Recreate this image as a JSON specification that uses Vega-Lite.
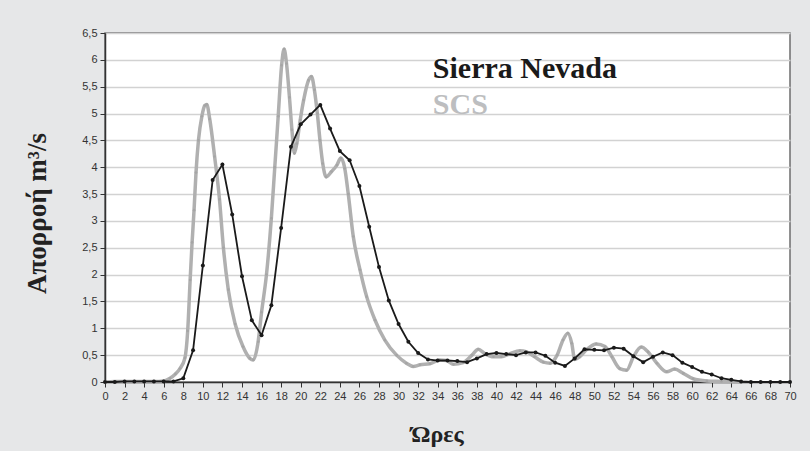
{
  "$schema": "https://vega.github.io/schema/vega-lite/v6.json",
  "autosize": {"type": "none"},
  "padding": {"left": 105, "top": 33, "right": 20, "bottom": 69},
  "width": 685,
  "height": 349,
  "background": "#e6e7e8",
  "config": {
    "view": {"stroke": "#6e6e6e", "strokeWidth": 1.5, "fill": "#ffffff"},
    "axis": {"labelFont": "Liberation Sans", "labelFontSize": 11, "labelColor": "#333333", "titleFont": "Times New Roman, Liberation Serif, DejaVu Serif, serif", "titleFontWeight": "bold", "titleColor": "#222222", "domainColor": "#333333", "domainWidth": 1.5, "tickColor": "#333333", "tickSize": 5}
  },
  "datasets": {
    "sn": [
      {"h": 0, "q": 0}, {"h": 1, "q": 0}, {"h": 2, "q": 0.01}, {"h": 3, "q": 0.01}, {"h": 4, "q": 0.01}, {"h": 5, "q": 0.01}, {"h": 6, "q": 0.01}, {"h": 7, "q": 0.01},
      {"h": 8, "q": 0.07}, {"h": 9, "q": 0.59}, {"h": 10, "q": 2.17}, {"h": 11, "q": 3.76}, {"h": 12, "q": 4.05}, {"h": 13, "q": 3.12}, {"h": 14, "q": 1.97},
      {"h": 15, "q": 1.15}, {"h": 16, "q": 0.87}, {"h": 17, "q": 1.43}, {"h": 18, "q": 2.87}, {"h": 19, "q": 4.38}, {"h": 20, "q": 4.8}, {"h": 21, "q": 4.98},
      {"h": 22, "q": 5.16}, {"h": 23, "q": 4.72}, {"h": 24, "q": 4.3}, {"h": 25, "q": 4.13}, {"h": 26, "q": 3.65}, {"h": 27, "q": 2.89}, {"h": 28, "q": 2.14},
      {"h": 29, "q": 1.52}, {"h": 30, "q": 1.08}, {"h": 31, "q": 0.75}, {"h": 32, "q": 0.54}, {"h": 33, "q": 0.42}, {"h": 34, "q": 0.4}, {"h": 35, "q": 0.4},
      {"h": 36, "q": 0.39}, {"h": 37, "q": 0.37}, {"h": 38, "q": 0.44}, {"h": 39, "q": 0.52}, {"h": 40, "q": 0.54}, {"h": 41, "q": 0.52}, {"h": 42, "q": 0.5},
      {"h": 43, "q": 0.55}, {"h": 44, "q": 0.55}, {"h": 45, "q": 0.49}, {"h": 46, "q": 0.36}, {"h": 47, "q": 0.3}, {"h": 48, "q": 0.44}, {"h": 49, "q": 0.61},
      {"h": 50, "q": 0.6}, {"h": 51, "q": 0.59}, {"h": 52, "q": 0.64}, {"h": 53, "q": 0.62}, {"h": 54, "q": 0.48}, {"h": 55, "q": 0.37}, {"h": 56, "q": 0.47},
      {"h": 57, "q": 0.55}, {"h": 58, "q": 0.5}, {"h": 59, "q": 0.36}, {"h": 60, "q": 0.28}, {"h": 61, "q": 0.19}, {"h": 62, "q": 0.14}, {"h": 63, "q": 0.07},
      {"h": 64, "q": 0.04}, {"h": 65, "q": 0.01}, {"h": 66, "q": 0}, {"h": 67, "q": 0}, {"h": 68, "q": 0}, {"h": 69, "q": 0}, {"h": 70, "q": 0}
    ],
    "scs": [
      {"h": 0, "q": 0}, {"h": 1, "q": 0.01}, {"h": 2, "q": 0.01}, {"h": 3, "q": 0.01}, {"h": 4, "q": 0.01}, {"h": 5, "q": 0.01}, {"h": 6, "q": 0.02},
      {"h": 6.64, "q": 0.07}, {"h": 7.2, "q": 0.15}, {"h": 7.66, "q": 0.25}, {"h": 8.17, "q": 0.45}, {"h": 8.45, "q": 0.95}, {"h": 8.7, "q": 1.9},
      {"h": 8.9, "q": 2.6}, {"h": 9.1, "q": 3.2}, {"h": 9.3, "q": 3.9}, {"h": 9.55, "q": 4.5}, {"h": 9.9, "q": 4.95}, {"h": 10.2, "q": 5.15},
      {"h": 10.4, "q": 5.17}, {"h": 10.7, "q": 4.9}, {"h": 11.2, "q": 4.2}, {"h": 11.7, "q": 3.4}, {"h": 12.1, "q": 2.5}, {"h": 12.6, "q": 1.72},
      {"h": 13.3, "q": 1.08}, {"h": 14.1, "q": 0.66}, {"h": 14.8, "q": 0.44}, {"h": 15.15, "q": 0.41}, {"h": 15.65, "q": 0.75}, {"h": 16.0, "q": 1.3},
      {"h": 16.5, "q": 2.0}, {"h": 17.0, "q": 3.05}, {"h": 17.35, "q": 4.0}, {"h": 17.7, "q": 4.95}, {"h": 18.05, "q": 5.9}, {"h": 18.3, "q": 6.2},
      {"h": 18.55, "q": 5.93}, {"h": 18.85, "q": 5.3}, {"h": 19.1, "q": 4.7}, {"h": 19.35, "q": 4.26}, {"h": 19.6, "q": 4.44}, {"h": 19.95, "q": 4.88},
      {"h": 20.3, "q": 5.25}, {"h": 20.8, "q": 5.62}, {"h": 21.1, "q": 5.69}, {"h": 21.4, "q": 5.44}, {"h": 21.7, "q": 5.0}, {"h": 21.97, "q": 4.5},
      {"h": 22.25, "q": 4.07}, {"h": 22.6, "q": 3.82}, {"h": 23.15, "q": 3.92}, {"h": 23.7, "q": 4.04}, {"h": 24.1, "q": 4.17}, {"h": 24.5, "q": 3.98},
      {"h": 24.86, "q": 3.5}, {"h": 25.37, "q": 2.71}, {"h": 26.06, "q": 2.09}, {"h": 26.74, "q": 1.59}, {"h": 27.6, "q": 1.15}, {"h": 28.6, "q": 0.78},
      {"h": 29.8, "q": 0.5}, {"h": 30.8, "q": 0.35}, {"h": 31.5, "q": 0.29}, {"h": 32.2, "q": 0.32}, {"h": 33.2, "q": 0.34}, {"h": 34.2, "q": 0.41},
      {"h": 34.9, "q": 0.4}, {"h": 35.6, "q": 0.33}, {"h": 36.6, "q": 0.36}, {"h": 37.5, "q": 0.5}, {"h": 38.15, "q": 0.61}, {"h": 38.8, "q": 0.53},
      {"h": 39.7, "q": 0.47}, {"h": 40.5, "q": 0.47}, {"h": 41.4, "q": 0.53}, {"h": 42.4, "q": 0.58}, {"h": 43.1, "q": 0.56}, {"h": 43.9, "q": 0.47},
      {"h": 44.8, "q": 0.37}, {"h": 45.5, "q": 0.35}, {"h": 46.2, "q": 0.5}, {"h": 46.8, "q": 0.78}, {"h": 47.3, "q": 0.91}, {"h": 47.7, "q": 0.72},
      {"h": 48.0, "q": 0.42}, {"h": 48.5, "q": 0.47}, {"h": 49.2, "q": 0.6}, {"h": 50.2, "q": 0.71}, {"h": 51.1, "q": 0.66}, {"h": 51.8, "q": 0.47},
      {"h": 52.6, "q": 0.25}, {"h": 53.3, "q": 0.22}, {"h": 54.0, "q": 0.47}, {"h": 54.8, "q": 0.65}, {"h": 55.5, "q": 0.56}, {"h": 56.4, "q": 0.35},
      {"h": 57.4, "q": 0.19}, {"h": 58.2, "q": 0.24}, {"h": 59.1, "q": 0.16}, {"h": 60.1, "q": 0.06}, {"h": 61.5, "q": 0.02}, {"h": 63, "q": 0.01},
      {"h": 65, "q": 0}
    ],
    "labels": [
      {"t": "Sierra Nevada", "h": 33.5, "q": 5.66},
      {"t": "SCS", "h": 33.5, "q": 5.0}
    ]
  },
  "encoding": {
    "x": {
      "field": "h", "type": "quantitative",
      "scale": {"domain": [0, 70], "nice": false, "zero": false},
      "axis": {
        "title": "Ώρες", "titleFontSize": 24, "titleY": 59, "titleBaseline": "alphabetic", "titleX": 332,
        "values": [0,2,4,6,8,10,12,14,16,18,20,22,24,26,28,30,32,34,36,38,40,42,44,46,48,50,52,54,56,58,60,62,64,66,68,70],
        "grid": false, "labelPadding": 3, "labelFlush": false
      }
    },
    "y": {
      "field": "q", "type": "quantitative",
      "scale": {"domain": [0, 6.5], "nice": false},
      "axis": {
        "title": "Απορροή m³/s", "titleFontSize": 27, "titleAngle": 270, "titleX": -68, "titleY": 180, "titleBaseline": "middle", "titleAlign": "center",
        "values": [0,0.5,1,1.5,2,2.5,3,3.5,4,4.5,5,5.5,6,6.5],
        "labelExpr": "replace(toString(datum.value), '.', ',')",
        "gridColor": "#d2d2d2", "gridWidth": 1.3, "labelPadding": 3, "labelFlush": false
      }
    }
  },
  "layer": [
    {"data": {"name": "scs"}, "mark": {"type": "line", "color": "#b0b0b0", "strokeWidth": 3.5, "interpolate": "monotone"}},
    {"data": {"name": "scs"}, "mark": {"type": "point", "filled": true, "color": "#a5a5a5", "size": 7, "opacity": 1}},
    {"data": {"name": "sn"}, "mark": {"type": "line", "color": "#1a1a1a", "strokeWidth": 1.8}},
    {"data": {"name": "sn"}, "mark": {"type": "point", "filled": true, "color": "#1a1a1a", "size": 16, "opacity": 1}},
    {
      "data": {"name": "labels"},
      "mark": {"type": "text", "align": "left", "baseline": "alphabetic", "font": "serif", "fontWeight": "bold", "fontSize": 30},
      "encoding": {
        "text": {"field": "t"},
        "font": {"value": "Liberation Serif"},
        "color": {"field": "t", "type": "nominal", "scale": {"domain": ["Sierra Nevada", "SCS"], "range": ["#1a1a1a", "#bdbec0"]}, "legend": null}
      }
    }
  ]
}
